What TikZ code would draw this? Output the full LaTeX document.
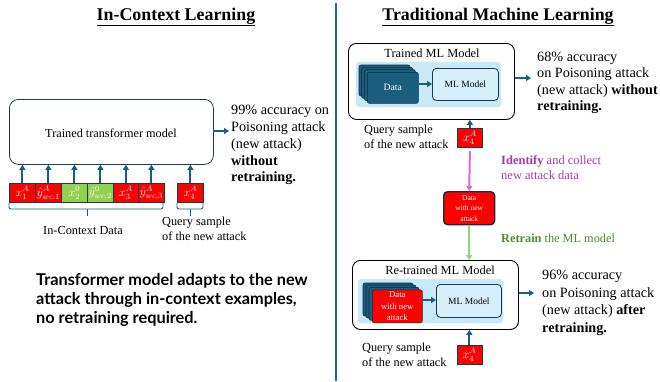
\documentclass[tikz,border=0pt]{standalone}
\usepackage{fontspec}
\setmainfont{Liberation Serif}
\newfontfamily\sansbold{Lato}
\usetikzlibrary{arrows.meta}
\definecolor{arrowblue}{HTML}{1C5C7E}
\definecolor{divblue}{HTML}{1B6A92}
\definecolor{navy}{HTML}{1B3A4F}
\definecolor{stackblue}{HTML}{1B5D7E}
\definecolor{stackedge}{HTML}{0F2F40}
\definecolor{lightpanel}{HTML}{C7E9F8}
\definecolor{mlfill}{HTML}{D5F0FB}
\definecolor{tokred}{HTML}{FF0000}
\definecolor{tokgreen}{HTML}{92D050}
\definecolor{pinkarrow}{HTML}{D96BD9}
\definecolor{purpletext}{HTML}{A23CA2}
\definecolor{greenarrow}{HTML}{8FD672}
\definecolor{greentext}{HTML}{4F8A34}
\tikzset{
  x=1pt, y=-1pt,
  bluearrow/.style={draw=arrowblue, line width=2pt, -{Triangle[length=5pt,width=6pt]}},
  tok/.style={draw=navy, line width=0.8pt, minimum width=26pt, minimum height=19pt, inner sep=0pt, text=white, font=\fontsize{11.5}{11.5}\selectfont},
  redtok/.style={tok, fill=tokred},
  greentok/.style={tok, fill=tokgreen},
  qtok/.style={draw=navy, line width=0.8pt, fill=tokred, minimum width=25pt, minimum height=19pt, inner sep=0pt, text=white, font=\fontsize{11.5}{11.5}\selectfont},
  body/.style={font=\fontsize{14.2}{16.8}\selectfont, align=left, inner sep=0pt, anchor=north west},
  small/.style={font=\fontsize{12.3}{14.5}\selectfont, inner sep=0pt},
  outerbox/.style={draw=black, line width=0.9pt, rounded corners=8pt},
  mlbox/.style={draw=navy, line width=0.8pt, fill=mlfill, rounded corners=4pt, inner sep=0pt, font=\fontsize{9.5}{11}\selectfont},
  stacklayer/.style={draw=stackedge, line width=0.6pt, fill=stackblue, rounded corners=2pt},
  brace/.style={draw=arrowblue, line width=0.9pt, rounded corners=2pt},
}
\begin{document}
\begin{tikzpicture}
\useasboundingbox (0,0) rectangle (660,381);
% divider
\draw[divblue, line width=2pt] (335.7,3) -- (335.7,381);

% ===== Left: In-Context Learning =====
\node[font=\bfseries\fontsize{17.9}{20}\selectfont, inner sep=0pt] (t1) at (176,17) {\underline{In-Context Learning}};
\node[draw=navy, line width=0.8pt, rounded corners=9pt, minimum width=204pt, minimum height=65pt, inner sep=0pt, anchor=north west] (tm) at (9,99) {};
\node[font=\fontsize{12.25}{14}\selectfont, inner sep=0pt] (tmlabel) at (111,133) {Trained transformer model};
\node[body] (acc1) at (231,105) {99\% accuracy on\\Poisoning attack\\(new attack)\\\textbf{without}\\\textbf{retraining.}};
\coordinate (tmr) at (213,131);
\coordinate (acc1l) at (229,131);
\draw[bluearrow] (tmr) -- (acc1l);

\node[redtok, anchor=north west] (k1) at (9,183) {$x_1^A$};
\node[redtok, anchor=north west] (k2) at (35,183) {$\hat{y}_{wc.1}^A$};
\node[greentok, anchor=north west] (k3) at (61,183) {$x_2^0$};
\node[greentok, anchor=north west] (k4) at (87,183) {$\hat{y}_{wc,2}^0$};
\node[redtok, anchor=north west] (k5) at (112.5,183) {$x_3^A$};
\node[redtok, anchor=north west] (k6) at (138,183) {$\hat{y}_{wc,3}^A$};
\node[qtok, anchor=north west, minimum width=26pt] (kq) at (177,183) {$x_4^A$};
\foreach \k in {k1,k2,k3,k4,k5,k6,kq}{
  \draw[bluearrow] (\k.north) -- (\k.north |- tm.south);
}
% braces
\draw[brace] (9,203) -- (9,209) -- (163,209) -- (163,203);
\draw[brace, rounded corners=0pt] (87,209) -- (87,216);
\draw[brace] (177,203) -- (177,209) -- (203,209) -- (203,203);
\draw[brace, rounded corners=0pt] (190,209) -- (190,216);
\node[small] (icd) at (83,230) {In-Context Data};
\node[small, align=left, anchor=north west] (q1) at (162,217) {Query sample\\of the new attack};

\node[font=\sansbold\bfseries\fontsize{16.3}{19}\selectfont, align=left, inner sep=0pt, anchor=north west] (summary) at (36,273) {Transformer model adapts to the new\\attack through in-context examples,\\no retraining required.};

% ===== Right: Traditional ML =====
\node[font=\bfseries\fontsize{17.8}{20}\selectfont, inner sep=0pt] (t2) at (498,17) {\underline{Traditional Machine Learning}};

% Trained ML Model box
\node[outerbox, minimum width=166pt, minimum height=76pt, anchor=north west, inner sep=0pt] (ob1) at (348,43) {};
\node[small, font=\fontsize{12.4}{14}\selectfont] (ob1t) at (432,53) {Trained ML Model};
\fill[lightpanel, rounded corners=3pt] (356,62) rectangle (501,107);
\draw[stacklayer] (359,65) rectangle (410,96);
\draw[stacklayer] (361.7,67.3) rectangle (412.7,98.3);
\draw[stacklayer] (364.4,69.6) rectangle (415.4,100.6);
\node[draw=stackedge, line width=0.6pt, fill=stackblue, rounded corners=2pt, minimum width=51pt, minimum height=31pt, inner sep=0pt, anchor=north west, text=white, font=\fontsize{9.7}{11}\selectfont] (d1) at (367,72) {Data};
\node[mlbox, minimum width=66pt, minimum height=32pt, anchor=north west] (ml1) at (432,68) {ML Model};
\draw[bluearrow, line width=1.6pt] (d1.east |- 0,84) -- (ml1.west |- 0,84);
\coordinate (acc2l) at (531,78);
\draw[bluearrow] (ob1.east |- 0,78) -- (acc2l);
\node[body, font=\fontsize{14.2}{16.3}\selectfont] (acc2) at (537,52) {68\% accuracy\\on Poisoning attack\\(new attack) \textbf{without}\\\textbf{retraining.}};

% query 1
\node[qtok, anchor=north west] (q2) at (457,128) {$x_4^A$};
\draw[bluearrow] (q2.north) -- (q2.north |- ob1.south);
\node[small, align=left, anchor=north west] (q2t) at (364,125) {Query sample\\of the new attack};

% data with new attack
\node[draw=stackedge, line width=1.4pt, fill=tokred, rounded corners=4pt, minimum width=51pt, minimum height=33pt, inner sep=0pt, anchor=north west, text=white, align=center, font=\fontsize{7.5}{10.5}\selectfont] (dn) at (443,191) {Data\\with new\\attack};
\draw[draw=pinkarrow, line width=2pt, -{Triangle[length=5pt,width=6pt]}] (q2.south |- 0,151) -- (dn.north);
\node[font=\fontsize{12.5}{15}\selectfont, text=purpletext, align=left, inner sep=0pt, anchor=north west] (idt) at (501,155) {\textbf{Identify} and collect\\new attack data};

% Re-trained box
\node[outerbox, minimum width=166pt, minimum height=69pt, anchor=north west, inner sep=0pt] (ob2) at (352,260) {};
\draw[draw=greenarrow, line width=2pt, -{Triangle[length=5pt,width=6pt]}] (dn.south) -- (dn.south |- ob2.north);
\node[font=\fontsize{12.3}{15}\selectfont, text=greentext, inner sep=0pt, anchor=west] (rt) at (501,238) {\textbf{Retrain} the ML model};
\node[small, font=\fontsize{12.4}{14}\selectfont] (ob2t) at (440,270) {Re-trained ML Model};
\fill[lightpanel, rounded corners=3pt] (358,279) rectangle (503,323);
\draw[stacklayer] (363,283) rectangle (413,316);
\draw[stacklayer] (366,285) rectangle (416,318);
\draw[stacklayer] (369,287.3) rectangle (419,320.3);
\node[draw=stackedge, line width=0.6pt, fill=tokred, rounded corners=2pt, minimum width=50pt, minimum height=33pt, inner sep=0pt, anchor=north west, text=white, align=center, font=\fontsize{8.8}{11.3}\selectfont] (d2) at (372,289.5) {Data\\with new\\attack};
\node[mlbox, minimum width=65pt, minimum height=33pt, anchor=north west] (ml2) at (436,284) {ML Model};
\draw[bluearrow, line width=1.6pt] (d2.east |- 0,300) -- (ml2.west |- 0,300);
\coordinate (acc3l) at (534,293);
\draw[bluearrow] (ob2.east |- 0,293) -- (acc3l);
\node[body, font=\fontsize{14.2}{17.5}\selectfont] (acc3) at (542,270) {96\% accuracy\\on Poisoning attack\\(new attack) \textbf{after}\\\textbf{retraining.}};

\node[qtok, anchor=north west] (q3) at (456.5,345) {$x_4^A$};
\draw[bluearrow] (q3.north) -- (q3.north |- ob2.south);
\node[small, align=left, anchor=north west] (q3t) at (362,343) {Query sample\\of the new attack};
\end{tikzpicture}
\end{document}
